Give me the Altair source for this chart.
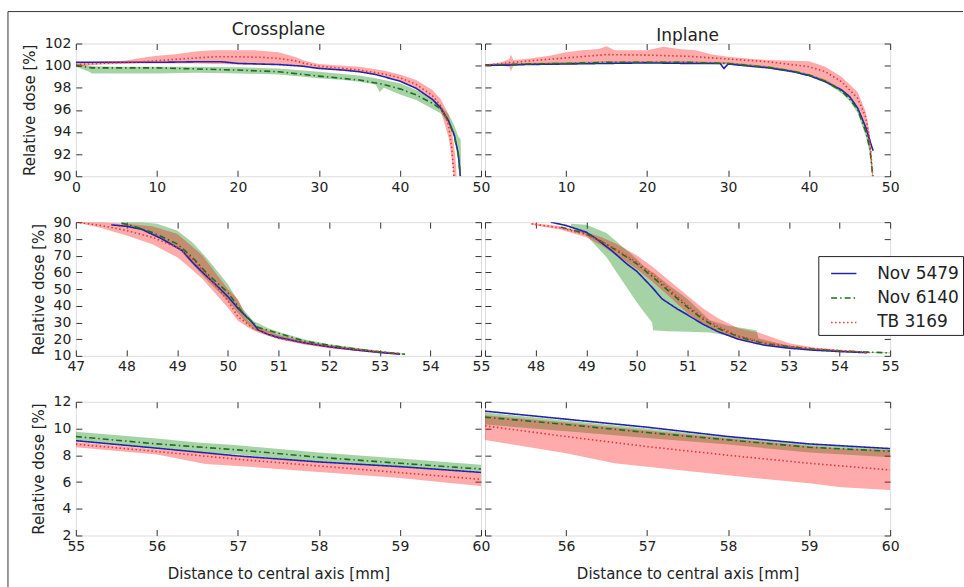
import altair as alt
import pandas as pd

FONT = "DejaVu Sans"
SERIES = ["Nov 5479", "Nov 6140", "TB 3169"]
LINE_COLORS = ["#2424aa", "#1e6e1e", "#e8353a"]
DASHES = [[1, 0], [6, 3, 1.5, 3], [1.5, 2.5]]
GREEN_FILL = "#008000"
RED_FILL = "#ff0000"

# ---------------- Crossplane, top (0-50 mm, 90-102 %) ----------------
tl_blue_x = [0, 5, 10, 15, 18, 20, 25, 28, 30, 33, 35, 37, 40, 42, 44, 45, 46, 46.7, 47.2, 47.45]
tl_blue_y = [100.3, 100.3, 100.3, 100.35, 100.35, 100.2, 100.1, 99.95, 99.75, 99.6, 99.45, 99.2, 98.6, 97.95, 96.95, 96.2, 95.0, 93.75, 92.0, 90.0]
tl_green_x = [0, 1, 2, 5, 10, 15, 20, 25, 30, 35, 38, 40, 42, 44, 45, 46, 46.7, 47.2, 47.45]
tl_green_y = [100.0, 99.9, 99.8, 99.8, 99.8, 99.7, 99.6, 99.45, 99.05, 98.7, 98.3, 97.9, 97.35, 96.6, 96.1, 95.0, 93.6, 91.9, 90.0]
tl_red_x = [0, 3, 5, 8, 10, 13, 15, 17, 20, 23, 25, 27, 28, 30, 33, 35, 38, 40, 42, 44, 45, 45.5, 46, 46.4, 46.65]
tl_red_y = [100.1, 100.2, 100.25, 100.35, 100.45, 100.6, 100.7, 100.8, 100.8, 100.75, 100.65, 100.45, 100.25, 99.95, 99.75, 99.6, 99.25, 98.9, 98.3, 97.3, 96.4, 95.6, 94.6, 92.5, 90.0]
tl_gband_x = [0, 1.5, 2, 5, 10, 15, 20, 25, 30, 33, 35, 37, 37.5, 38, 40, 42, 44, 45, 46, 46.7, 47.2, 47.5, 47.55]
tl_gband_hi = [100.2, 100.0, 99.95, 99.9, 99.9, 99.9, 99.85, 99.75, 99.45, 99.25, 99.1, 98.85, 98.8, 98.7, 98.4, 97.8, 97.0, 96.4, 95.6, 94.6, 93.6, 93.3, 89.0]
tl_gband_lo = [99.9, 99.5, 99.3, 99.3, 99.3, 99.35, 99.3, 99.2, 98.85, 98.7, 98.55, 98.3, 97.6, 98.0, 97.4, 96.9, 96.1, 95.7, 94.8, 93.5, 91.5, 89.5, 89.0]
tl_rband_x = [0, 3, 6, 8, 10, 12, 15, 17, 20, 22, 25, 27, 28, 29, 30, 33, 35, 38, 40, 42, 44, 45, 46, 46.4, 46.8, 47.0]
tl_rband_hi = [100.3, 100.35, 100.45, 100.7, 100.9, 101.0, 101.3, 101.4, 101.4, 101.4, 101.2, 100.8, 100.5, 100.3, 100.15, 100.0, 99.9, 99.55, 99.2, 98.7, 97.8, 97.0, 95.6, 94.2, 92.0, 90.0]
tl_rband_lo = [99.9, 100.1, 100.15, 100.2, 100.2, 100.2, 100.2, 100.15, 100.1, 100.1, 100.05, 100.0, 99.95, 99.85, 99.75, 99.55, 99.4, 99.1, 98.6, 97.95, 96.9, 96.0, 93.5, 91.5, 89.0, 88.0]

# ---------------- Inplane, top ----------------
tr_blue_x = [0, 3, 5, 10, 15, 20, 25, 29, 29.5, 30, 32, 35, 38, 40, 42, 44, 45, 46, 47, 47.5, 47.9]
tr_blue_y = [100.05, 100.05, 100.1, 100.15, 100.2, 100.25, 100.2, 100.2, 99.75, 100.15, 100.0, 99.8, 99.45, 99.1, 98.55, 97.8, 97.2, 96.15, 94.4, 93.2, 92.3]
tr_green_x = [0, 5, 10, 15, 20, 25, 30, 35, 38, 40, 42, 44, 45, 46, 47, 47.5, 47.85]
tr_green_y = [100.05, 100.15, 100.2, 100.3, 100.3, 100.3, 100.2, 99.85, 99.5, 99.15, 98.6, 97.7, 97.0, 96.0, 94.0, 92.5, 90.0]
tr_red_x = [0, 5, 10, 15, 20, 25, 30, 35, 40, 42, 44, 46, 47, 47.5, 47.85]
tr_red_y = [100.05, 100.4, 100.7, 101.0, 100.95, 100.85, 100.6, 100.35, 99.9, 99.45, 98.55, 97.05, 95.3, 93.2, 90.0]
tr_gband_x = [0, 5, 10, 15, 20, 25, 30, 35, 38, 40, 42, 44, 45, 46, 47, 47.5, 47.85]
tr_gband_hi = [100.1, 100.25, 100.3, 100.4, 100.4, 100.4, 100.3, 99.95, 99.6, 99.25, 98.75, 97.9, 97.2, 96.3, 94.4, 93.0, 90.5]
tr_gband_lo = [100.0, 100.05, 100.1, 100.2, 100.2, 100.2, 100.1, 99.75, 99.4, 99.05, 98.45, 97.5, 96.8, 95.7, 93.6, 92.0, 89.5]
tr_rband_x = [0, 2, 3, 3.2, 3.5, 5, 8, 10, 12, 14, 15, 16, 18, 20, 22, 24, 26, 28, 30, 33, 35, 38, 40, 42, 44, 46, 47, 47.5, 47.9]
tr_rband_hi = [100.1, 100.3, 100.6, 101.0, 100.5, 100.6, 100.9, 101.2, 101.4, 101.5, 101.75, 101.4, 101.4, 101.4, 101.7, 101.5, 101.4, 101.0, 100.8, 100.6, 100.5, 100.45, 100.4, 99.9, 99.0, 97.6, 95.8, 93.8, 90.0]
tr_rband_lo = [100.0, 100.0, 99.9, 99.5, 100.0, 100.1, 100.15, 100.2, 100.25, 100.3, 100.3, 100.3, 100.3, 100.3, 100.3, 100.3, 100.25, 100.2, 100.15, 100.0, 99.85, 99.5, 99.2, 98.6, 97.8, 96.3, 94.2, 92.5, 89.0]

# ---------------- Crossplane, middle (47-55 mm, 10-90 %) ----------------
ml_blue_x = [47.7, 48.0, 48.3, 48.7, 49.1, 49.3, 49.5, 49.8, 50.0, 50.2, 50.35, 50.5, 50.6, 50.8, 51.0, 51.5, 52.0, 52.5, 53.0, 53.4]
ml_blue_y = [88.4, 87.5, 85.8, 80.0, 73.0, 66.0, 60.0, 51.5, 45.5, 38.5, 34.0, 29.5, 25.5, 22.8, 21.0, 17.8, 15.4, 13.6, 12.0, 11.0]
ml_green_x = [47.9, 48.2, 48.5, 49.0, 49.3, 49.6, 50.0, 50.3, 50.6, 51.0, 51.5, 52.0, 52.5, 53.0, 53.5]
ml_green_y = [89.5, 87.0, 84.0, 77.0, 69.0, 59.0, 48.0, 35.5, 27.0, 23.5, 19.0, 16.4, 14.2, 12.4, 11.0]
ml_red_x = [47.0, 47.5, 48.0, 48.5, 49.0, 49.3, 49.6, 50.0, 50.2, 50.5, 51.0, 51.5, 52.0, 52.5, 53.0, 53.4]
ml_red_y = [90.0, 88.0, 85.0, 81.0, 75.0, 68.0, 58.0, 43.0, 33.5, 26.5, 20.5, 17.8, 15.4, 13.8, 12.4, 11.4]
ml_gband_x = [47.9, 48.3, 48.6, 49.0, 49.3, 49.6, 50.0, 50.3, 50.5, 50.8, 51.0, 51.5, 52.0, 52.5, 53.0, 53.5]
ml_gband_hi = [90.0, 90.0, 89.0, 85.0, 78.0, 68.0, 53.0, 38.0, 31.0, 26.5, 24.5, 20.0, 17.0, 15.0, 13.0, 11.3]
ml_gband_lo = [88.0, 85.0, 81.0, 75.0, 65.0, 55.0, 43.0, 32.0, 26.0, 22.5, 21.0, 17.5, 15.3, 13.6, 11.8, 10.6]
ml_rband_x = [47.0, 47.5, 48.0, 48.5, 49.0, 49.2, 49.5, 50.0, 50.2, 50.4, 50.6, 51.0, 51.5, 52.0, 52.5, 53.0, 53.4]
ml_rband_hi = [90.0, 90.0, 89.0, 87.5, 83.0, 78.0, 70.0, 50.0, 44.0, 31.0, 27.5, 22.5, 19.0, 16.5, 14.5, 12.8, 11.8]
ml_rband_lo = [90.0, 86.5, 82.0, 77.0, 69.0, 64.0, 56.0, 39.0, 31.0, 27.0, 24.0, 20.0, 16.8, 14.6, 13.0, 11.8, 11.0]

# ---------------- Inplane, middle ----------------
mr_blue_x = [48.3, 48.6, 49.0, 49.2, 49.5, 49.8, 50.0, 50.3, 50.5, 50.8, 51.0, 51.3, 51.6, 52.0, 52.5, 53.0, 53.5, 54.0, 54.55]
mr_blue_y = [90.0, 88.0, 84.0, 80.0, 73.0, 65.0, 60.5, 51.0, 44.0, 38.0, 34.5, 29.0, 24.5, 20.0, 16.5, 14.6, 13.4, 12.6, 11.9]
mr_green_x = [48.5, 49.0, 49.3, 49.6, 50.0, 50.3, 50.6, 51.0, 51.3, 51.6, 52.0, 52.5, 53.0, 53.5, 54.0, 54.5, 55.0]
mr_green_y = [87.0, 83.0, 78.5, 73.0, 65.0, 57.5, 49.5, 39.0, 32.0, 26.5, 21.5, 17.5, 15.5, 14.0, 13.0, 12.3, 11.8]
mr_red_x = [47.92, 48.5, 49.0, 49.3, 49.6, 50.0, 50.3, 50.6, 51.0, 51.3, 51.6, 52.0, 52.5, 53.0, 53.5, 54.0, 54.6]
mr_red_y = [89.0, 86.5, 82.5, 78.5, 73.5, 66.0, 59.0, 51.0, 40.0, 33.0, 27.5, 22.0, 18.0, 15.8, 14.3, 13.2, 12.0]
mr_gband_x = [48.7, 49.0, 49.4, 49.73, 50.0, 50.12, 50.3, 50.32, 50.6, 51.0, 51.44, 51.8, 52.36, 52.4, 53.0, 53.5, 54.0, 54.5, 55.0]
mr_gband_hi = [89.0, 88.5, 83.5, 75.0, 68.0, 64.0, 60.0, 60.0, 53.0, 44.0, 31.3, 28.0, 25.3, 20.5, 16.0, 14.3, 13.2, 12.5, 12.0]
mr_gband_lo = [87.0, 82.0, 69.0, 54.0, 42.0, 37.0, 30.0, 25.3, 24.8, 24.5, 24.0, 22.0, 18.0, 17.5, 14.6, 13.4, 12.6, 12.0, 11.5]
mr_rband_x = [47.92, 48.5, 49.0, 49.3, 49.6, 50.0, 50.3, 50.6, 51.0, 51.3, 51.6, 52.0, 52.4, 53.0, 53.5, 54.0, 54.6]
mr_rband_hi = [89.5, 87.5, 84.0, 81.0, 77.0, 70.0, 63.5, 56.0, 46.0, 38.5, 32.5, 26.5, 24.0, 17.5, 15.0, 13.6, 12.2]
mr_rband_lo = [88.5, 85.5, 81.0, 76.0, 70.0, 62.0, 54.5, 46.5, 35.5, 29.5, 24.5, 19.5, 17.0, 14.8, 13.6, 12.7, 11.8]

# ---------------- Crossplane, bottom (55-60 mm, 2-12 %) ----------------
bl_x = [55, 56, 57, 58, 59, 60]
bl_blue_y = [9.09, 8.53, 7.95, 7.5, 7.15, 6.72]
bl_green_y = [9.4, 8.85, 8.4, 7.85, 7.4, 6.97]
bl_red_y = [8.83, 8.28, 7.7, 7.2, 6.7, 6.2]
bl_gband_x = [55, 56, 56.5, 57, 58, 59, 60]
bl_gband_hi = [9.75, 9.25, 8.95, 8.75, 8.2, 7.75, 7.3]
bl_gband_lo = [9.05, 8.5, 8.25, 8.05, 7.5, 7.1, 6.8]
bl_rband_x = [55, 56, 56.6, 57, 58, 59, 59.4, 60]
bl_rband_hi = [9.0, 8.45, 8.15, 7.95, 7.45, 7.1, 6.95, 6.7]
bl_rband_lo = [8.6, 8.05, 7.35, 7.2, 6.75, 6.3, 6.05, 5.7]

# ---------------- Inplane, bottom ----------------
br_x = [55, 56, 57, 58, 59, 60]
br_blue_y = [11.3, 10.7, 10.1, 9.4, 8.85, 8.5]
br_green_y = [10.85, 10.3, 9.7, 9.15, 8.6, 8.3]
br_red_y = [10.2, 9.4, 8.65, 8.0, 7.4, 6.9]
br_gband_x = [55, 56, 57, 58, 59, 60]
br_gband_hi = [11.2, 10.6, 10.0, 9.35, 8.8, 8.45]
br_gband_lo = [10.3, 9.8, 9.3, 8.8, 8.2, 7.85]
br_rband_x = [55, 56, 56.6, 57, 58, 59, 59.4, 60]
br_rband_hi = [11.0, 10.45, 10.1, 9.85, 9.25, 8.7, 8.5, 8.4]
br_rband_lo = [9.15, 8.15, 7.4, 7.15, 6.5, 5.9, 5.6, 5.4]

# tick values
top_xticks = [0, 10, 20, 30, 40, 50]
top_yticks = [90, 92, 94, 96, 98, 100, 102]
mid_xticks = [47, 48, 49, 50, 51, 52, 53, 54, 55]
mid_yticks = [10, 20, 30, 40, 50, 60, 70, 80, 90]
bot_xticks = [55, 56, 57, 58, 59, 60]
bot_yticks = [2, 4, 6, 8, 10, 12]

Y_TITLE = "Relative dose [%]"
X_TITLE = "Distance to central axis [mm]"

W = 406
H_TOP, H_MID, H_BOT = 133, 134, 134
ROW_GAP = 46


def lines_frame(blocks):
    rows = []
    for name, xs, ys in blocks:
        for xv, yv in zip(xs, ys):
            rows.append({"x": xv, "y": yv, "series": name})
    return pd.DataFrame(rows)


def band_frame(xs, lo, hi):
    return pd.DataFrame({"x": xs, "lo": lo, "hi": hi})


LEGEND = alt.Legend(
    title=None, orient="none", legendX=744, legendY=213,
    symbolType="stroke", symbolSize=640, symbolStrokeWidth=1.6, symbolOffset=8,
    labelOffset=20, labelFont=FONT, labelFontSize=17, labelColor="#222",
    padding=4, rowPadding=2.5, strokeColor="#222", fillColor="white",
    cornerRadius=0,
)

AX = dict(domain=False, ticks=True, tickSize=6, offset=-6, tickColor="#333",
          tickWidth=1, grid=False, labelFont=FONT, labelFontSize=14,
          labelColor="#222", labelFlush=False, labelOverlap=False,
          titleFont=FONT, titleFontSize=15, titleColor="#222",
          titleFontWeight="normal")


def panel(lines, gband, rband, xdom, ydom, xticks, yticks, w, h,
          title=None, ylabels=True, ytitle=None, xtitle=None, xlab_values=None,
          frame=None):
    xs = alt.Scale(domain=xdom, nice=False, zero=False)
    ys = alt.Scale(domain=ydom, nice=False, zero=False)

    xb = dict(AX, orient="bottom", values=xticks, format="d", labelPadding=4)
    if xlab_values is not None:
        xb["labelExpr"] = "indexof(%s, datum.value) >= 0 ? datum.label : ''" % str(xlab_values)
    if xtitle:
        xb["title"] = xtitle
        xb["titlePadding"] = 13
    else:
        xb["title"] = None
    yl = dict(AX, orient="left", values=yticks, format="d", labelPadding=5,
              labels=ylabels)
    if ytitle:
        yl["title"] = ytitle
        yl["titlePadding"] = 7
    else:
        yl["title"] = None
    xt = dict(AX, orient="top", values=xticks, labels=False, title=None)
    yr = dict(AX, orient="right", values=yticks, labels=False, title=None)

    g = alt.Chart(gband).mark_area(color=GREEN_FILL, opacity=0.35, clip=True).encode(
        x=alt.X("x:Q", scale=xs, axis=alt.Axis(**xb)),
        y=alt.Y("lo:Q", scale=ys, axis=alt.Axis(**yl)),
        y2="hi:Q",
    )
    r = alt.Chart(rband).mark_area(color=RED_FILL, opacity=0.33, clip=True).encode(
        x=alt.X("x:Q", scale=xs, axis=alt.Axis(**xt)),
        y=alt.Y("lo:Q", scale=ys, axis=alt.Axis(**yr)),
        y2="hi:Q",
    )
    ln = alt.Chart(lines).mark_line(clip=True, strokeWidth=1.6).encode(
        x=alt.X("x:Q", scale=xs, axis=None),
        y=alt.Y("y:Q", scale=ys, axis=None),
        color=alt.Color("series:N", scale=alt.Scale(domain=SERIES, range=LINE_COLORS), legend=LEGEND),
        strokeDash=alt.StrokeDash("series:N", scale=alt.Scale(domain=SERIES, range=DASHES), legend=LEGEND),
    )
    layers = [g, r, ln]
    if frame is not None:
        # outer picture frame (left and top edges), placed from this panel's origin
        fx, fy_top, fy_bot, fx_right = frame
        fd = pd.DataFrame({"k": [0]})
        layers.append(alt.Chart(fd).mark_rule(color="#333", strokeWidth=1).encode(
            x=alt.value(fx), y=alt.value(fy_top), y2=alt.value(fy_bot)))
        layers.append(alt.Chart(fd).mark_rule(color="#333", strokeWidth=1).encode(
            x=alt.value(fx), x2=alt.value(fx_right), y=alt.value(fy_top)))
    ch = alt.layer(*layers).resolve_axis(x="independent", y="independent")
    props = dict(width=w, height=h)
    if title:
        props["title"] = alt.TitleParams(title, font=FONT, fontSize=17, fontWeight="normal",
                                         color="#222", offset=-2)
    return ch.properties(**props)


# bottom-left panel origin sits at (75, 42 + H_TOP + H_MID + 2*ROW_GAP)
BL_TOP = 42 + H_TOP + H_MID + 2 * ROW_GAP
FRAME = (7 - 75, 10 - BL_TOP, 587 - BL_TOP, 964 - 75)

TL = panel(
    lines_frame([(SERIES[0], tl_blue_x, tl_blue_y), (SERIES[1], tl_green_x, tl_green_y), (SERIES[2], tl_red_x, tl_red_y)]),
    band_frame(tl_gband_x, tl_gband_lo, tl_gband_hi), band_frame(tl_rband_x, tl_rband_lo, tl_rband_hi),
    [0, 50], [90, 102], top_xticks, top_yticks, W, H_TOP,
    title="Crossplane", ytitle=Y_TITLE)
TR = panel(
    lines_frame([(SERIES[0], tr_blue_x, tr_blue_y), (SERIES[1], tr_green_x, tr_green_y), (SERIES[2], tr_red_x, tr_red_y)]),
    band_frame(tr_gband_x, tr_gband_lo, tr_gband_hi), band_frame(tr_rband_x, tr_rband_lo, tr_rband_hi),
    [0, 50], [90, 102], top_xticks, top_yticks, W, H_TOP,
    title="Inplane", ylabels=False, xlab_values=top_xticks[1:])
ML = panel(
    lines_frame([(SERIES[0], ml_blue_x, ml_blue_y), (SERIES[1], ml_green_x, ml_green_y), (SERIES[2], ml_red_x, ml_red_y)]),
    band_frame(ml_gband_x, ml_gband_lo, ml_gband_hi), band_frame(ml_rband_x, ml_rband_lo, ml_rband_hi),
    [47, 55], [10, 90], mid_xticks, mid_yticks, W, H_MID, ytitle=Y_TITLE)
MR = panel(
    lines_frame([(SERIES[0], mr_blue_x, mr_blue_y), (SERIES[1], mr_green_x, mr_green_y), (SERIES[2], mr_red_x, mr_red_y)]),
    band_frame(mr_gband_x, mr_gband_lo, mr_gband_hi), band_frame(mr_rband_x, mr_rband_lo, mr_rband_hi),
    [47, 55], [10, 90], mid_xticks, mid_yticks, W, H_MID, ylabels=False, xlab_values=mid_xticks[1:])
BL = panel(
    lines_frame([(SERIES[0], bl_x, bl_blue_y), (SERIES[1], bl_x, bl_green_y), (SERIES[2], bl_x, bl_red_y)]),
    band_frame(bl_gband_x, bl_gband_lo, bl_gband_hi), band_frame(bl_rband_x, bl_rband_lo, bl_rband_hi),
    [55, 60], [2, 12], bot_xticks, bot_yticks, W, H_BOT, ytitle=Y_TITLE, xtitle=X_TITLE,
    frame=FRAME)
BR = panel(
    lines_frame([(SERIES[0], br_x, br_blue_y), (SERIES[1], br_x, br_green_y), (SERIES[2], br_x, br_red_y)]),
    band_frame(br_gband_x, br_gband_lo, br_gband_hi), band_frame(br_rband_x, br_rband_lo, br_rband_hi),
    [55, 60], [2, 12], bot_xticks, bot_yticks, W, H_BOT, ylabels=False, xtitle=X_TITLE,
    xlab_values=bot_xticks[1:])

chart = alt.concat(TL, TR, ML, MR, BL, BR, columns=2,
                   spacing={"row": ROW_GAP, "column": 4}, bounds="flush").properties(
    padding={"left": 7, "top": 10, "right": 0, "bottom": 0},
    background="white",
).configure_view(stroke="#333", strokeWidth=1.2).configure(font=FONT)

chart.save("out.html", embed_options={"renderer": "svg", "actions": False})
